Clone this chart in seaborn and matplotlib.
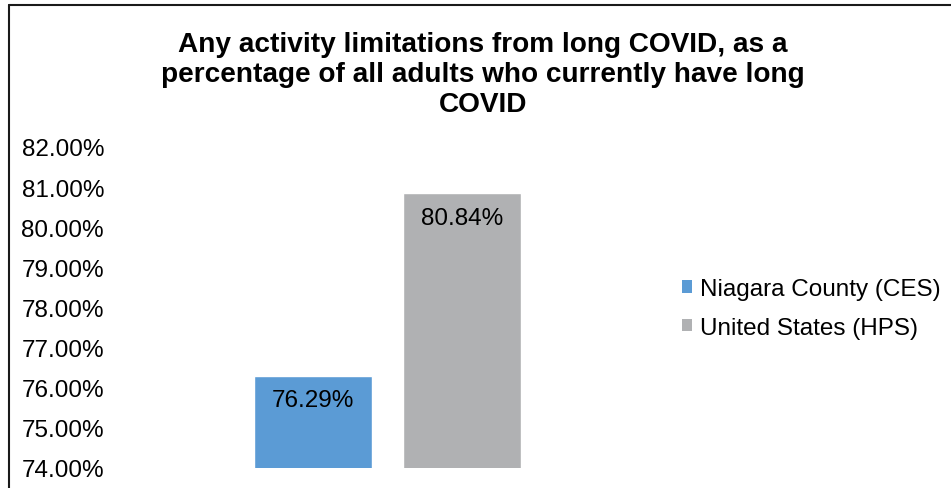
import matplotlib
matplotlib.use("Agg")
import matplotlib.pyplot as plt
from matplotlib.lines import Line2D
import seaborn as sns
import pandas as pd

# Chart data
series = ["Niagara County (CES)", "United States (HPS)"]
values = [76.29, 80.84]
colors = ["#5B9BD5", "#B0B1B3"]
y_ticks = [74, 75, 76, 77, 78, 79, 80, 81, 82]
title = ("Any activity limitations from long COVID, as a\n"
         "percentage of all adults who currently have long\n"
         "COVID")

df = pd.DataFrame({"group": [""] * len(series), "series": series, "value": values})

sns.set_theme(style="white")
plt.rcParams["font.family"] = ["Liberation Sans", "DejaVu Sans"]
plt.rcParams["text.color"] = "black"

W, H = 951, 489
fig = plt.figure(figsize=(W / 100, H / 100), dpi=100)
fig.patch.set_facecolor("white")

FS = 17.5

# plot area in pixel coordinates
left, right, top, bottom = 120, 655, 148, 468.5
ax = fig.add_axes([left / W, 1 - bottom / H, (right - left) / W, (bottom - top) / H])

sns.barplot(data=df, x="group", y="value", hue="series", palette=colors,
            width=0.8, gap=0.21, saturation=1, ax=ax, legend=False)

ax.set_ylim(74, 82)
ax.set_xlim(-0.718, 0.718)
ax.set_yticks(y_ticks)
ax.set_yticklabels([f"{v:.2f}%" for v in y_ticks], fontsize=FS, color="black")
ax.tick_params(axis="y", length=0, pad=11.5)
ax.set_xticks([])
ax.set_xlabel("")
ax.set_ylabel("")
for s in ax.spines.values():
    s.set_visible(False)

# value labels inside the top of each bar
for patch, v in zip(ax.patches, values):
    cx = patch.get_x() + patch.get_width() / 2
    ax.annotate(f"{v:.2f}%", xy=(cx, v), xytext=(0, -17.5), textcoords="offset points",
                ha="center", va="center", fontsize=FS, color="black")

# title
fig.text(483 / W, 1 - 32.5 / H, title, ha="center", va="top", fontsize=20.2,
         fontweight="bold", linespacing=1.2, color="black", transform=fig.transFigure)

# legend
handles = [plt.Rectangle((0, 0), 1, 1, facecolor=c, edgecolor="none") for c in colors]
leg = fig.legend(handles, series, loc="center left", bbox_to_anchor=(682 / W, 1 - 309.5 / H),
                 frameon=False, fontsize=FS, handlelength=0.42, handleheight=0.42,
                 handletextpad=0.33, labelspacing=0.68, borderpad=0, borderaxespad=0)
for t in leg.get_texts():
    t.set_color("black")

# chart border (left and top edges)
fig.add_artist(Line2D([8.5 / W, 8.5 / W], [1 - 6 / H, -0.05], transform=fig.transFigure,
                      color="#1a1a1a", linewidth=1.5))
fig.add_artist(Line2D([8.5 / W, 1.05], [1 - 6 / H, 1 - 6 / H], transform=fig.transFigure,
                      color="#1a1a1a", linewidth=1.5))

fig.savefig("out.png", dpi=100)
